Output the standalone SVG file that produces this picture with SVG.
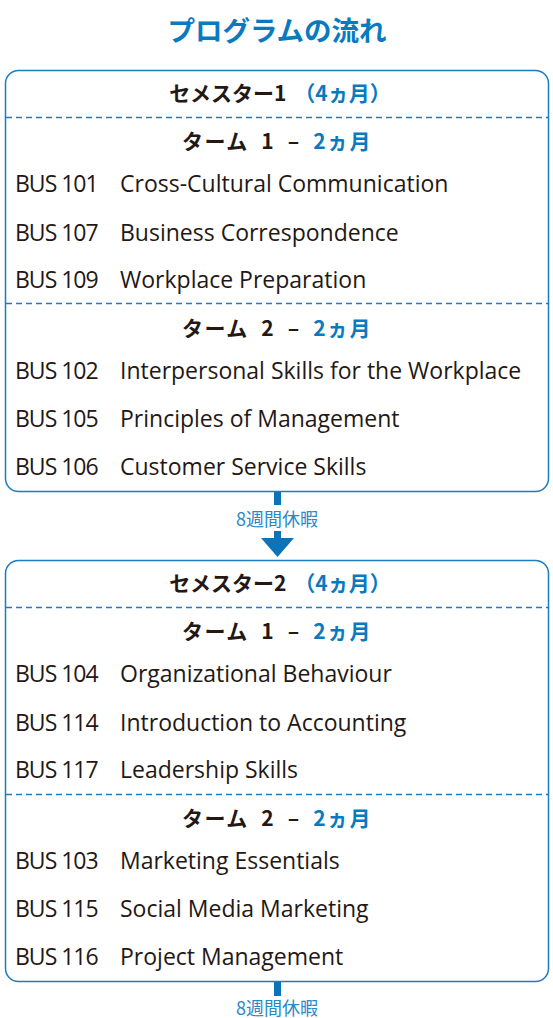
<svg xmlns="http://www.w3.org/2000/svg" width="553" height="1018" viewBox="0 0 553 1018">
<style>
.box{fill:#fff;stroke:#1a7dbf;stroke-width:1.5}
.dash{stroke:#1a7dbf;stroke-width:1.5;stroke-dasharray:6 4}
.title{font-family:"Noto Sans CJK JP","Noto Sans",sans-serif;font-weight:bold;font-size:27.5px;fill:#0a7abf}
.hdr{font-family:"Noto Sans CJK JP","Noto Sans",sans-serif;font-weight:bold;font-size:21px;fill:#231815}
.term{letter-spacing:1.5px}
.blue{fill:#0a7abf}
.c{font-family:"Open Sans","Noto Sans",sans-serif;font-size:23px;fill:#231815}
.code{letter-spacing:-1px}
.lbl{font-family:"Noto Sans CJK JP","Noto Sans",sans-serif;font-size:18px;fill:#2a88c6}
.bar{fill:#0a74b8}
</style>
<text class="title" x="277" y="41" text-anchor="middle">プログラムの流れ</text>

<g id="semester1">
<rect class="box" x="5.5" y="70.5" width="543" height="421" rx="13"/>
<text class="hdr" x="280" y="101" text-anchor="middle">セメスター1<tspan class="blue" dx="8">（4ヵ月）</tspan></text>
<line class="dash" x1="6" y1="117.5" x2="548" y2="117.5"/>
<text class="hdr term" x="277" y="149" text-anchor="middle" xml:space="preserve">ターム  1  –  <tspan class="blue">2ヵ月</tspan></text>
<text class="c code" x="15" y="192">BUS 101</text><text class="c" x="120" y="192">Cross-Cultural Communication</text>
<text class="c code" x="15" y="241">BUS 107</text><text class="c" x="120" y="241">Business Correspondence</text>
<text class="c code" x="15" y="288">BUS 109</text><text class="c" x="120" y="288">Workplace Preparation</text>
<line class="dash" x1="6" y1="303.5" x2="548" y2="303.5"/>
<text class="hdr term" x="277" y="336" text-anchor="middle" xml:space="preserve">ターム  2  –  <tspan class="blue">2ヵ月</tspan></text>
<text class="c code" x="15" y="379">BUS 102</text><text class="c" x="120" y="379">Interpersonal Skills for the Workplace</text>
<text class="c code" x="15" y="427">BUS 105</text><text class="c" x="120" y="427">Principles of Management</text>
<text class="c code" x="15" y="475">BUS 106</text><text class="c" x="120" y="475">Customer Service Skills</text>
</g>

<g id="semester2">
<rect class="box" x="5.5" y="560.5" width="543" height="421" rx="13"/>
<text class="hdr" x="280" y="591" text-anchor="middle">セメスター2<tspan class="blue" dx="8">（4ヵ月）</tspan></text>
<line class="dash" x1="6" y1="607.5" x2="548" y2="607.5"/>
<text class="hdr term" x="277" y="639" text-anchor="middle" xml:space="preserve">ターム  1  –  <tspan class="blue">2ヵ月</tspan></text>
<text class="c code" x="15" y="682">BUS 104</text><text class="c" x="120" y="682">Organizational Behaviour</text>
<text class="c code" x="15" y="731">BUS 114</text><text class="c" x="120" y="731">Introduction to Accounting</text>
<text class="c code" x="15" y="778">BUS 117</text><text class="c" x="120" y="778">Leadership Skills</text>
<line class="dash" x1="6" y1="794.5" x2="548" y2="794.5"/>
<text class="hdr term" x="277" y="826" text-anchor="middle" xml:space="preserve">ターム  2  –  <tspan class="blue">2ヵ月</tspan></text>
<text class="c code" x="15" y="869">BUS 103</text><text class="c" x="120" y="869">Marketing Essentials</text>
<text class="c code" x="15" y="917">BUS 115</text><text class="c" x="120" y="917">Social Media Marketing</text>
<text class="c code" x="15" y="965">BUS 116</text><text class="c" x="120" y="965">Project Management</text>
</g>

<g id="connectors">
<rect class="bar" x="274" y="492" width="7" height="13"/>
<text class="lbl" x="277" y="526" text-anchor="middle">8週間休暇</text>
<rect class="bar" x="274" y="531" width="7" height="8"/>
<polygon class="bar" points="261,538 294,538 277.5,557"/>
<rect class="bar" x="274" y="982" width="7" height="14"/>
<text class="lbl" x="277" y="1015" text-anchor="middle">8週間休暇</text>
</g>
</svg>
